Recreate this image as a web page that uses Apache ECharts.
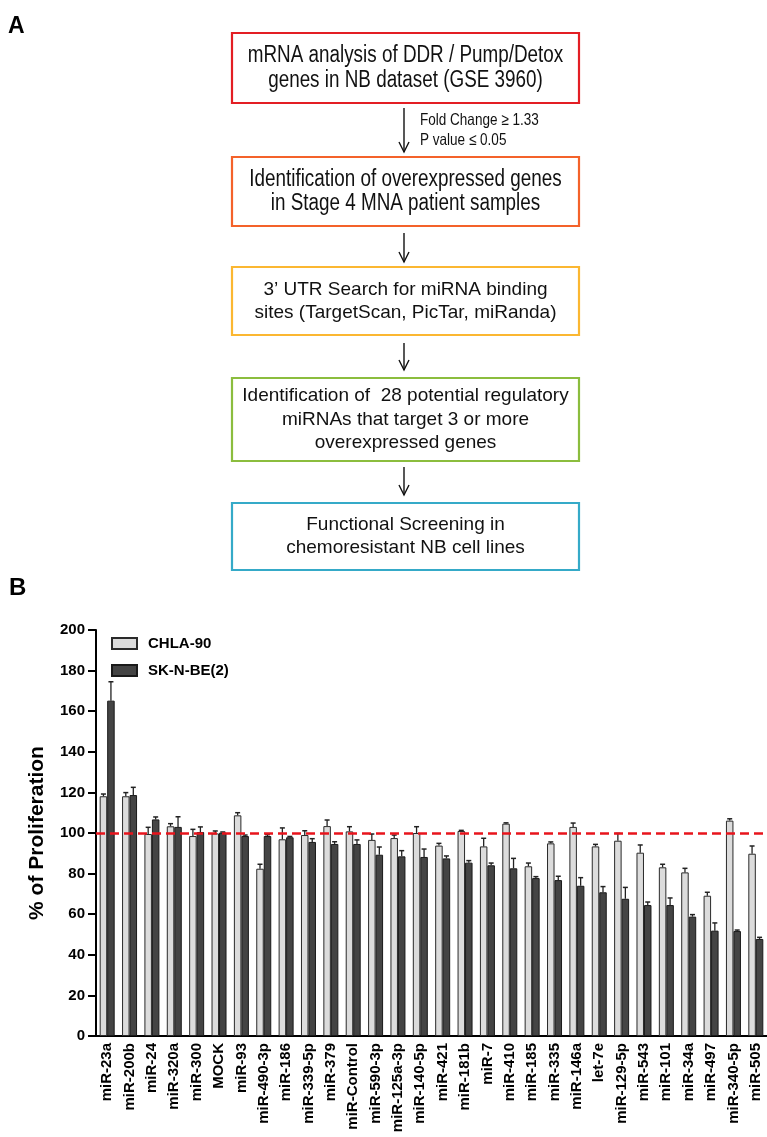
<!DOCTYPE html>
<html><head><meta charset="utf-8">
<script src="https://cdn.jsdelivr.net/npm/echarts@6/dist/echarts.min.js"></script>
<style>html,body{margin:0;padding:0;background:#fff}#c{width:767px;height:1137px}</style>
</head><body><div id="c"></div>
<script>
const categories = ['miR-23a','miR-200b','miR-24','miR-320a','miR-300','MOCK','miR-93','miR-490-3p','miR-186','miR-339-5p','miR-379','miR-Control','miR-590-3p','miR-125a-3p','miR-140-5p','miR-421','miR-181b','miR-7','miR-410','miR-185','miR-335','miR-146a','let-7e','miR-129-5p','miR-543','miR-101','miR-34a','miR-497','miR-340-5p','miR-505'];
const chla90 =    [118.1,118.1,99.5,103.3,98.5,99.8,108.7,82.4,96.9,99.0,103.4,100.8,96.6,97.5,100.0,93.8,101.0,93.4,104.6,83.6,94.9,103.0,93.4,96.2,90.3,83.1,80.6,69.1,106.1,89.8];
const chla90Err = [1.1,1.8,3.3,1.3,3.3,1.2,1.3,2.2,5.6,2.1,3.0,2.3,2.9,1.5,3.1,1.1,0.3,4.0,0.4,1.6,0.7,1.9,1.0,3.6,3.8,1.5,2.0,1.7,0.9,3.8];
const skn =       [165.2,118.7,106.7,103.0,100.5,100.2,98.5,98.5,97.9,95.6,94.6,94.6,89.3,88.5,88.2,87.5,85.4,84.1,82.6,77.8,76.8,74.0,70.8,67.6,64.5,64.5,58.8,51.9,51.7,47.8];
const sknErr =    [9.3,3.8,1.2,5.0,2.5,0.3,0.5,0.7,0.4,1.6,1.1,2.0,3.8,2.8,3.9,1.2,1.0,1.1,4.9,0.7,1.9,4.0,2.8,5.6,1.5,3.5,1.0,3.8,0.5,0.8];
const seriesNames = ['CHLA-90','SK-N-BE(2)'];
const referenceLevel = 100;
const yMin = 0, yMax = 200, yStep = 20;

const FONT = 'Liberation Sans, Arial, Helvetica, sans-serif';
const BAR_W = 7.5;

function errRender(sign){
  return function(params, api){
    const i = api.value(0), v = api.value(1), e = api.value(2);
    const base = api.coord([i, v]);
    const top = api.coord([i, v + e]);
    const x = base[0] + sign * BAR_W / 2;
    const cap = 2.5;
    return {type:'group', children:[
      {type:'line', shape:{x1:x, y1:base[1], x2:x, y2:top[1]}, style:{stroke:'#222', lineWidth:1.3}},
      {type:'line', shape:{x1:x-cap, y1:top[1], x2:x+cap, y2:top[1]}, style:{stroke:'#222', lineWidth:1.5}}
    ]};
  };
}

// Flowchart (panel A) graphics
const boxes = [
  {y:33, h:70, color:'#e31e24', lines:['mRNA analysis of DDR / Pump/Detox','genes in NB dataset (GSE 3960)'], narrow:true},
  {y:157, h:69, color:'#f4622a', lines:['Identification of overexpressed genes','in Stage 4 MNA patient samples'], narrow:true},
  {y:267, h:68, color:'#fbb731', lines:['3\u2019 UTR Search for miRNA binding','sites (TargetScan, PicTar, miRanda)'], narrow:false},
  {y:378, h:83, color:'#8bbd3e', lines:['Identification of  28 potential regulatory','miRNAs that target 3 or more','overexpressed genes'], narrow:false},
  {y:503, h:67, color:'#35aac8', lines:['Functional Screening in','chemoresistant NB cell lines'], narrow:false}
];
const BX = 232, BW = 347, CX = BX + BW/2;
const graphics = [];
graphics.push({type:'text', x:8, y:15, style:{text:'A', font:'bold 23px '+FONT, fill:'#000'}});
graphics.push({type:'text', x:9, y:576, style:{text:'B', font:'bold 24px '+FONT, fill:'#000'}});
boxes.forEach(b => {
  graphics.push({type:'rect', shape:{x:BX, y:b.y, width:BW, height:b.h}, style:{fill:'#fff', stroke:b.color, lineWidth:2.2}});
  const lh = b.narrow ? 24.5 : 23.3;
  const cy = b.y + b.h/2;
  b.lines.forEach((t, k) => {
    const ly = cy + (k - (b.lines.length-1)/2) * lh;
    graphics.push({type:'text', x:CX, y:ly, scaleX: b.narrow ? 0.82 : 1,
      style:{x:0, y:0, text:t, font:(b.narrow ? '23px ' : '19px ') + FONT, fill:'#111', align:'center', verticalAlign:'middle'}});
  });
});
const arrows = [[108,152],[233,262],[343,370],[467,495]];
const AX = 404;
arrows.forEach(a => {
  graphics.push({type:'line', shape:{x1:AX, y1:a[0], x2:AX, y2:a[1]}, style:{stroke:'#111', lineWidth:1.4}});
  graphics.push({type:'polyline', shape:{points:[[AX-5, a[1]-10],[AX, a[1]],[AX+5, a[1]-10]]}, style:{stroke:'#111', lineWidth:1.4, fill:null}});
});
graphics.push({type:'text', x:420, y:120, scaleX:0.82, style:{x:0, y:0, text:'Fold Change \u2265 1.33', font:'16.5px '+FONT, fill:'#111', verticalAlign:'middle'}});
graphics.push({type:'text', x:420, y:140, scaleX:0.82, style:{x:0, y:0, text:'P value \u2264 0.05', font:'16.5px '+FONT, fill:'#111', verticalAlign:'middle'}});

const chart = echarts.init(document.getElementById('c'), null, {renderer:'canvas'});
chart.setOption({
  animation:false,
  backgroundColor:'#fff',
  graphic: graphics,
  legend:{
    data: seriesNames, orient:'vertical', left:106, top:631,
    itemWidth:25, itemHeight:11, itemGap:12, icon:'rect',
    textStyle:{fontFamily:FONT, fontWeight:'bold', fontSize:15, color:'#000', padding:[0,0,0,6]}
  },
  grid:{left:96, right:0, top:630, bottom:101, containLabel:false},
  xAxis:{
    type:'category', data:categories,
    axisLine:{lineStyle:{color:'#000', width:2}},
    axisTick:{show:false},
    axisLabel:{rotate:90, interval:0, margin:7, color:'#000', fontFamily:FONT, fontWeight:'bold', fontSize:15}
  },
  yAxis:{
    type:'value', min:yMin, max:yMax, interval:yStep,
    name:'% of Proliferation', nameLocation:'middle', nameGap:48,
    nameTextStyle:{fontFamily:FONT, fontWeight:'bold', fontSize:21, color:'#000'},
    axisLine:{show:true, lineStyle:{color:'#000', width:2}},
    axisTick:{show:true, length:8, lineStyle:{color:'#000', width:2}},
    axisLabel:{color:'#000', fontFamily:FONT, fontWeight:'bold', fontSize:15, margin:11},
    splitLine:{show:false}
  },
  series:[
    {name:seriesNames[0], type:'bar', data:chla90, barWidth:BAR_W, barGap:'0%',
      itemStyle:{color:'#dcdcdc', borderColor:'#2a2a2a', borderWidth:1},
      markLine:{silent:true, symbol:'none', label:{show:false},
        lineStyle:{color:'#e8141c', width:2.5, type:[9,5]}, data:[{yAxis:referenceLevel}], z:10}},
    {name:seriesNames[1], type:'bar', data:skn, barWidth:BAR_W, barGap:'0%',
      itemStyle:{color:'#444444', borderColor:'#1a1a1a', borderWidth:1}},
    {type:'custom', renderItem:errRender(-1), z:5, silent:true,
      data: chla90.map((v,i)=>[i, v, chla90Err[i]]), encode:{x:0, y:1}},
    {type:'custom', renderItem:errRender(1), z:5, silent:true,
      data: skn.map((v,i)=>[i, v, sknErr[i]]), encode:{x:0, y:1}}
  ]
});
</script></body></html>
